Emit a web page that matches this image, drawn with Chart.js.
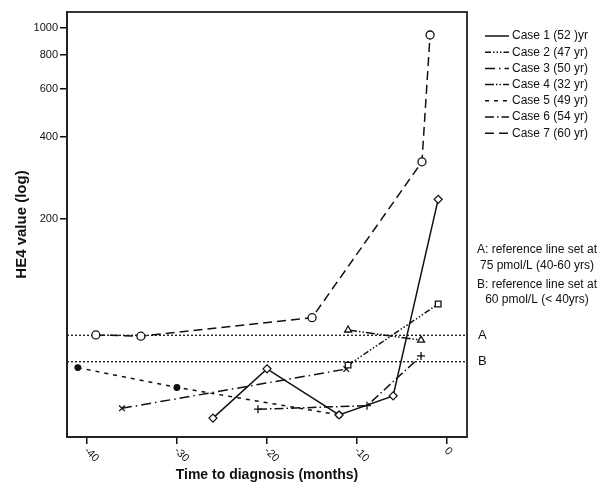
<!DOCTYPE html>
<html>
<head>
<meta charset="utf-8">
<script src="https://cdn.jsdelivr.net/npm/chart.js@4.4.1/dist/chart.umd.min.js"></script>
<style>
  html, body { margin: 0; padding: 0; background: #fff; }
  canvas { display: block; }
</style>
</head>
<body>
<canvas id="he4-chart" width="603" height="486"></canvas>
<script>
// data (months before diagnosis, HE4 in pmol/L)
const caseLabels = ['Case 1 (52 )yr', 'Case 2 (47 yr)', 'Case 3 (50 yr)', 'Case 4 (32 yr)', 'Case 5 (49 yr)', 'Case 6 (54 yr)', 'Case 7 (60 yr)'];
const case1Months = [-26, -20, -12, -6, -1];
const case1Values = [37.3, 56.5, 38.3, 45, 236];
const case2Months = [-11, -1];
const case2Values = [58.3, 97.6];
const case3Months = [-36.1, -11.2];
const case3Values = [40.5, 56.4];
const case4Months = [-11, -2.9];
const case4Values = [78.4, 72];
const case5Months = [-41, -30, -12];
const case5Values = [57.1, 48.3, 38.3];
const case6Months = [-21, -8.9, -2.9];
const case6Values = [40.2, 41.4, 63];
const case7Months = [-39, -34, -15, -2.8, -1.9];
const case7Values = [75.2, 74.4, 87, 324, 944];

const refValues = [75, 60];
const refLabels = ['A', 'B'];
const noteLines = ['A: reference line set at', '75 pmol/L (40-60 yrs)', 'B: reference line set at', '60 pmol/L (< 40yrs)'];

const xTicks = [-40, -30, -20, -10, 0];
const yTicks = [200, 400, 600, 800, 1000];
const xMin = -42.2, xMax = 2.2;
const yMin = 31.8, yMax = 1146;

const INK = '#111';
Chart.defaults.font.family = '"Liberation Sans", Arial, sans-serif';
Chart.defaults.color = INK;

function pts(months, values) {
    return months.map((m, i) => ({ x: m, y: values[i] }));
}

// one entry per case: dash pattern, marker
const caseStyles = [
    { dash: [], marker: 'rectRot', fill: '#fff' },
    { dash: [6, 2, 1.5, 2, 1.5, 2, 1.5, 2], marker: 'rect', fill: '#fff' },
    { dash: [10, 4, 1.5, 4], marker: 'crossRot', fill: '#fff' },
    { dash: [9, 2, 1.5, 2, 1.5, 2], marker: 'triangle', fill: '#fff' },
    { dash: [4, 5], marker: 'circle', fill: INK },
    { dash: [9, 3, 1.5, 3], marker: 'cross', fill: '#fff' },
    { dash: [9, 5], marker: 'circle', fill: '#fff' }
];
const caseData = [
    pts(case1Months, case1Values),
    pts(case2Months, case2Values),
    pts(case3Months, case3Values),
    pts(case4Months, case4Values),
    pts(case5Months, case5Values),
    pts(case6Months, case6Values),
    pts(case7Months, case7Values)
];

const datasets = caseData.map((d, i) => ({
    label: caseLabels[i],
    data: d,
    showLine: true,
    borderColor: INK,
    borderWidth: 1.5,
    borderDash: caseStyles[i].dash,
    pointStyle: caseStyles[i].marker,
    pointRadius: i === 4 ? 2.8 : 4,
    pointBorderWidth: 1.3,
    pointBorderColor: INK,
    pointBackgroundColor: caseStyles[i].fill
}));

// dotted reference lines A and B
refValues.forEach((v, i) => {
    datasets.push({
        label: refLabels[i],
        data: [{ x: xMin, y: v }, { x: xMax, y: v }],
        showLine: true,
        borderColor: INK,
        borderWidth: 1.3,
        borderDash: [2, 2],
        pointRadius: 0,
        isRef: true
    });
});

// frame, rotated x labels, legend and notes
const extrasPlugin = {
    id: 'extras',
    afterDraw(chart) {
        const ctx = chart.ctx;
        const area = chart.chartArea;
        const xs = chart.scales.x;
        const ys = chart.scales.y;
        ctx.save();

        ctx.strokeStyle = '#222';
        ctx.lineWidth = 1.8;
        ctx.strokeRect(area.left, area.top, area.right - area.left, area.bottom - area.top);

        ctx.fillStyle = INK;
        ctx.font = '11px "Liberation Sans", Arial, sans-serif';
        ctx.textAlign = 'left';
        ctx.textBaseline = 'middle';
        xTicks.forEach(v => {
            ctx.save();
            ctx.translate(xs.getPixelForValue(v) - 1, area.bottom + 12);
            ctx.rotate(Math.PI / 4);
            ctx.fillText(String(v), 0, 0);
            ctx.restore();
        });

        ctx.font = '13px "Liberation Sans", Arial, sans-serif';
        refValues.forEach((v, i) => {
            ctx.fillText(refLabels[i], area.right + 11, ys.getPixelForValue(v));
        });

        ctx.font = '12px "Liberation Sans", Arial, sans-serif';
        chart.data.datasets.forEach((ds, i) => {
            if (ds.isRef) return;
            const y = 36 + i * 16.2;
            ctx.beginPath();
            ctx.setLineDash(ds.borderDash);
            ctx.lineWidth = 1.5;
            ctx.strokeStyle = INK;
            ctx.moveTo(485, y);
            ctx.lineTo(509, y);
            ctx.stroke();
            ctx.setLineDash([]);
            ctx.fillText(ds.label, 512, y);
        });

        ctx.textAlign = 'center';
        const noteY = [250, 266, 285, 300];
        noteLines.forEach((t, i) => ctx.fillText(t, 537, noteY[i]));
        ctx.restore();
    }
};

const ctx = document.getElementById('he4-chart').getContext('2d');
// eslint-disable-next-line no-unused-vars
const he4Chart = new Chart(ctx, {
    type: 'scatter',
    data: { datasets: datasets },
    options: {
        responsive: false,
        devicePixelRatio: 1,
        animation: false,
        layout: { padding: { left: 0, right: 136, top: 12, bottom: 0 } },
        plugins: {
            legend: { display: false },
            tooltip: { enabled: false }
        },
        scales: {
            x: {
                type: 'linear',
                min: xMin,
                max: xMax,
                afterBuildTicks: axis => { axis.ticks = xTicks.map(v => ({ value: v })); },
                afterFit: axis => { axis.height = 49; },
                ticks: { display: false },
                grid: { drawOnChartArea: false, drawTicks: true, tickLength: 7, tickColor: INK, lineWidth: 1.5 },
                border: { display: true, color: '#222', width: 1.8 },
                title: {
                    display: true,
                    text: 'Time to diagnosis (months)',
                    font: { size: 14, weight: 'bold' },
                    padding: { top: 0, bottom: 2 }
                }
            },
            y: {
                type: 'logarithmic',
                min: yMin,
                max: yMax,
                afterBuildTicks: axis => { axis.ticks = yTicks.map(v => ({ value: v })); },
                afterFit: axis => { axis.width = 67; },
                ticks: {
                    callback: v => String(v),
                    font: { size: 11 },
                    padding: 2
                },
                grid: { drawOnChartArea: false, drawTicks: true, tickLength: 7, tickColor: INK, lineWidth: 1.5 },
                border: { display: true, color: '#222', width: 1.8 },
                title: {
                    display: true,
                    text: 'HE4 value (log)',
                    font: { size: 15, weight: 'bold' },
                    padding: { top: 13, bottom: 0 }
                }
            }
        }
    },
    plugins: [extrasPlugin]
});
</script>
</body>
</html>
